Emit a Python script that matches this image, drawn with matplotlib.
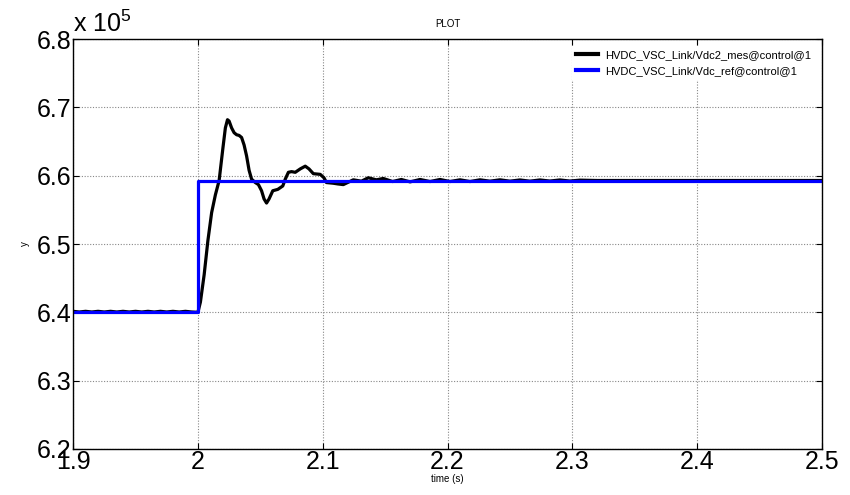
import matplotlib.pyplot as plt
from matplotlib.ticker import FuncFormatter

plt.rcParams['font.family'] = ['Liberation Sans', 'DejaVu Sans']
plt.rcParams['mathtext.default'] = 'regular'

t_mes = [1.900, 1.905, 1.910, 1.915, 1.920, 1.925, 1.930, 1.935, 1.940, 1.945,
         1.950, 1.955, 1.960, 1.965, 1.970, 1.975, 1.980, 1.985, 1.990, 1.995,
         2.000, 2.002, 2.005, 2.008, 2.011, 2.014, 2.017, 2.020, 2.022, 2.0237,
         2.025, 2.027, 2.029, 2.031, 2.033, 2.035, 2.037, 2.039, 2.041, 2.043,
         2.046, 2.0485, 2.051, 2.053, 2.055, 2.057, 2.060, 2.064, 2.068, 2.070,
         2.0725, 2.075, 2.078, 2.082, 2.086, 2.089, 2.0925, 2.098, 2.101, 2.103,
         2.1085, 2.112, 2.1165, 2.1245, 2.131, 2.1365, 2.143, 2.1485,
         2.156, 2.163, 2.170, 2.178, 2.186, 2.194, 2.202, 2.210, 2.218, 2.226,
         2.234, 2.242, 2.250, 2.258, 2.266, 2.274, 2.282, 2.290, 2.298, 2.306,
         2.320, 2.400, 2.500]
v_mes = [640150, 640050, 640150, 640050, 640150, 640050, 640150, 640050, 640150, 640050,
         640150, 640050, 640150, 640050, 640150, 640050, 640150, 640050, 640150, 640050,
         640000, 641500, 645500, 650500, 654600, 657200, 659300, 664000, 667000, 668200,
         668000, 667000, 666300, 666000, 665900, 665600, 664500, 662900, 660800, 659500,
         659000, 658700, 657800, 656600, 656000, 656600, 657800, 658000, 658500, 659500,
         660500, 660600, 660500, 661000, 661400, 661000, 660300, 660200, 659700, 659000,
         658900, 658800, 658700, 659400, 659200, 659700, 659400, 659600,
         659150, 659450, 659100, 659450, 659150, 659450, 659150, 659400, 659150, 659400,
         659200, 659400, 659200, 659380, 659200, 659380, 659220, 659380, 659220, 659350,
         659300, 659300, 659300]

# reference DC voltage (V)
t_ref = [1.9, 2.0, 2.0, 2.5]
v_ref = [640000, 640000, 659300, 659300]

lab_mes = 'HVDC_VSC_Link/Vdc2_mes@control@1'
lab_ref = 'HVDC_VSC_Link/Vdc_ref@control@1'

fig = plt.figure(figsize=(8.5, 4.95), dpi=100)
ax = fig.add_axes([0.086, 0.093, 0.881, 0.828])

ax.plot(t_mes, v_mes, color='black', lw=2.3, label=lab_mes, solid_joinstyle='round')
ax.plot(t_ref, v_ref, color='#0000ff', lw=2.3, label=lab_ref)

ax.set_xlim(1.9, 2.5)
ax.set_ylim(620000, 680000)
ax.set_xticks([1.9, 2.0, 2.1, 2.2, 2.3, 2.4, 2.5])
ax.set_xticklabels(['1.9', '2', '2.1', '2.2', '2.3', '2.4', '2.5'])
ax.set_yticks([620000, 630000, 640000, 650000, 660000, 670000, 680000])
ax.yaxis.set_major_formatter(FuncFormatter(lambda v, p: '%.1f' % (v / 1e5)))

ax.tick_params(direction='in', top=True, right=True, labelsize=18, length=4, pad=1)
ax.grid(True, color='#888888', linestyle=(0, (1, 1.5)), linewidth=0.8)
for s in ax.spines.values():
    s.set_linewidth(1.0)

ax.set_title('PLOT', fontsize=7, pad=9)
ax.set_xlabel('time (s)', fontsize=7, labelpad=0)
ax.set_ylabel('y', fontsize=7)
ax.yaxis.set_label_coords(-0.058, 0.5)

fig.text(0.086, 0.925, r'x 10$^5$', fontsize=18, ha='left', va='bottom')

leg = ax.legend(loc='upper right', fontsize=8, frameon=True, fancybox=False,
                handlelength=2.0, handletextpad=0.6, borderaxespad=0.6,
                labelspacing=0.5)
leg.get_frame().set_edgecolor('none')
leg.get_frame().set_alpha(1.0)
for h in leg.get_lines():
    h.set_linewidth(3)

fig.savefig('out.png', dpi=100)
